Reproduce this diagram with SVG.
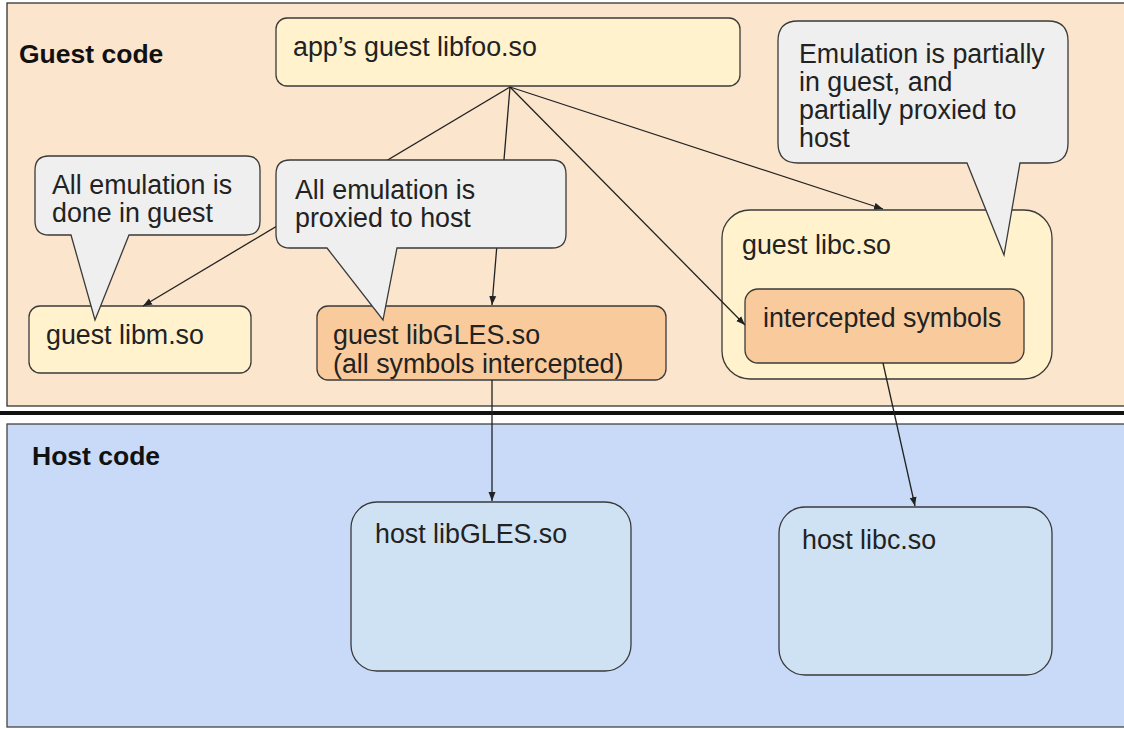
<svg xmlns="http://www.w3.org/2000/svg" width="1124" height="729" viewBox="0 0 1124 729">
  <defs>
    <style>
      text { font-family: "Liberation Sans", Arial, sans-serif; font-size: 26.8px; fill: #222; }
      .hdr { font-weight: bold; fill: #111; font-size: 26.5px; }
      .box { stroke: #3a3a3a; stroke-width: 1.3; }
      .yellow { fill: #fff2cc; }
      .orange { fill: #f9cb9c; }
      .blue { fill: #cfe2f3; }
      .callout { fill: #efefef; stroke: #3a3a3a; stroke-width: 1.3; }
      .conn { stroke: #222; stroke-width: 1.3; fill: none; marker-end: url(#arrow); }
    </style>
    <marker id="arrow" markerWidth="10" markerHeight="8" refX="9" refY="4" orient="auto" markerUnits="userSpaceOnUse">
      <path d="M0,0.5 L9,4 L0,7.5 Z" fill="#222"/>
    </marker>
  </defs>
  <rect x="0" y="0" width="1124" height="729" fill="#ffffff"/>

  <g id="guest-region">
    <rect x="7" y="3" width="1130" height="403" fill="#fce5cd" stroke="#333" stroke-width="1.3"/>
    <text class="hdr" x="19" y="63">Guest code</text>
  </g>
  <g id="separator">
    <line x1="0" y1="413" x2="1124" y2="413" stroke="#111" stroke-width="4"/>
  </g>
  <g id="host-region">
    <rect x="7" y="424" width="1130" height="303" fill="#c9daf8" stroke="#444" stroke-width="1.3"/>
    <text class="hdr" x="32" y="465">Host code</text>
  </g>

  <g id="libfoo">
    <rect class="box yellow" x="276" y="18" width="464" height="68" rx="11"/>
    <text x="293" y="56">app’s guest libfoo.so</text>
  </g>
  <g id="libm">
    <rect class="box yellow" x="29" y="306" width="222" height="67" rx="11"/>
    <text x="46" y="344">guest libm.so</text>
  </g>
  <g id="libGLES">
    <rect class="box orange" x="317" y="306" width="349" height="74" rx="11"/>
    <text x="333" y="344">guest libGLES.so</text>
    <text x="333" y="373">(all symbols intercepted)</text>
  </g>
  <g id="libc">
    <rect class="box yellow" x="722" y="210" width="330" height="169" rx="28"/>
    <text x="742" y="254">guest libc.so</text>
  </g>
  <g id="intercepted">
    <rect class="box orange" x="745" y="289" width="279" height="74" rx="13"/>
    <text x="763" y="327">intercepted symbols</text>
  </g>
  <g id="host-libGLES">
    <rect class="box blue" x="351" y="502" width="280" height="169" rx="26"/>
    <text x="375" y="543">host libGLES.so</text>
  </g>
  <g id="host-libc">
    <rect class="box blue" x="779" y="507" width="273" height="168" rx="26"/>
    <text x="802" y="549">host libc.so</text>
  </g>

  <g id="connectors">
    <line class="conn" x1="510" y1="87" x2="143" y2="306"/>
    <line class="conn" x1="510" y1="87" x2="492" y2="305"/>
    <line class="conn" x1="510" y1="87" x2="745" y2="325"/>
    <line class="conn" x1="510" y1="87" x2="883" y2="209"/>
    <line class="conn" x1="492" y1="380" x2="492" y2="501"/>
    <line class="conn" x1="883" y1="363" x2="915" y2="506"/>
  </g>

  <g id="callout-guest">
    <path class="callout" d="M49,156 H246 Q260,156 260,170 V221 Q260,235 246,235 H129 L95,320 L71,235 H49 Q35,235 35,221 V170 Q35,156 49,156 Z"/>
    <text x="52" y="194">All emulation is</text>
    <text x="52" y="222">done in guest</text>
  </g>
  <g id="callout-proxied">
    <path class="callout" d="M290,160 H552 Q566,160 566,174 V234 Q566,248 552,248 H397 L383,320 L327,248 H290 Q276,248 276,234 V174 Q276,160 290,160 Z"/>
    <text x="295" y="199">All emulation is</text>
    <text x="295" y="227">proxied to host</text>
  </g>
  <g id="callout-partial">
    <path class="callout" d="M798,21 H1048 Q1068,21 1068,41 V143 Q1068,163 1048,163 H1020 L1004,255 L967,163 H798 Q778,163 778,143 V41 Q778,21 798,21 Z"/>
    <text x="799" y="63">Emulation is partially</text>
    <text x="799" y="91">in guest, and</text>
    <text x="799" y="119">partially proxied to</text>
    <text x="799" y="147">host</text>
  </g>
</svg>
